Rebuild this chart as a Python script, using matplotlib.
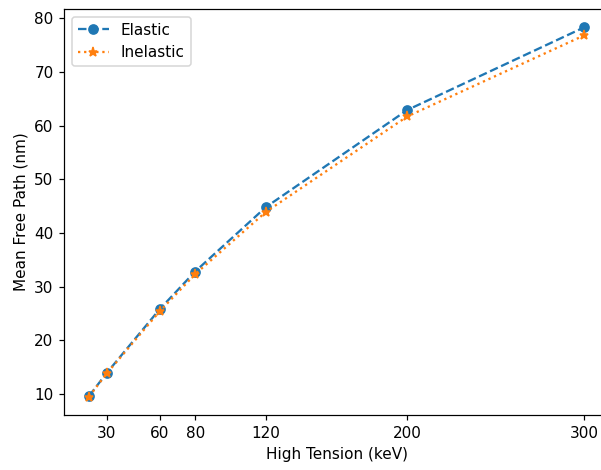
import matplotlib
matplotlib.use("Agg")
import matplotlib.pyplot as plt

high_tension = [20, 30, 60, 80, 120, 200, 300]
elastic = [9.6, 13.9, 25.8, 32.8, 44.8, 62.9, 78.3]
inelastic = [9.5, 13.8, 25.4, 32.3, 43.9, 61.7, 76.8]
xticks = [30, 60, 80, 120, 200, 300]

# reference looks rendered a bit larger than default, so scale with dpi
dpi = 110
fig, ax = plt.subplots(figsize=(601 / dpi, 470 / dpi), dpi=dpi)
ax.plot(high_tension, elastic, 'o--', label='Elastic')
ax.plot(high_tension, inelastic, '*:', label='Inelastic')
ax.set_xticks(xticks)
ax.set_xlabel('High Tension (keV)')
ax.set_ylabel('Mean Free Path (nm)')
ax.legend()
fig.subplots_adjust(left=0.107, right=1.013, top=0.981, bottom=0.117)
fig.savefig('out.png', dpi=dpi)
